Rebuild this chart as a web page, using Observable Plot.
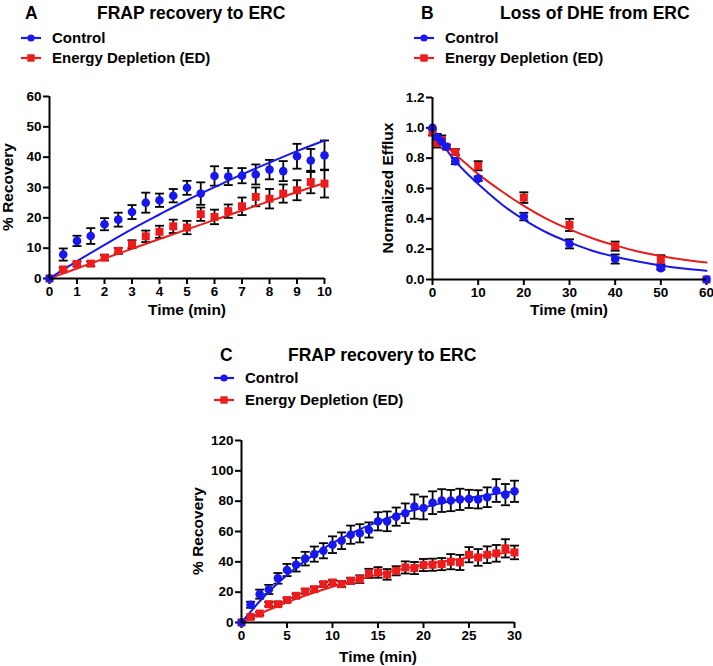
<!DOCTYPE html>
<html><head><meta charset="utf-8">
<script src="https://cdn.jsdelivr.net/npm/d3@7"></script>
<script src="https://cdn.jsdelivr.net/npm/@observablehq/plot@0.6"></script>
<style>
body{margin:0;background:#fff;}
#fig{position:relative;width:713px;height:666px;overflow:hidden;font-family:"Liberation Sans",Arial,sans-serif;font-weight:bold;color:#000;background:#fff;}
.t{position:absolute;white-space:nowrap;}
.ttl{font-size:17.5px;line-height:20px;}
.leg{font-size:15px;line-height:18px;}
.ax{font-size:15.5px;line-height:18px;transform:translate(-50%,-50%);}
.axr{font-size:15.5px;line-height:18px;transform:translate(-50%,-50%) rotate(-90deg);}
.panel{position:absolute;}
.panel svg{overflow:visible;}
</style>
</head><body><div id="fig"></div>
<script>
// ---------- DATA ----------
const seriesNames = ["Control", "Energy Depletion (ED)"];

// Panel A: FRAP recovery to ERC (0-10 min)
const timeA = [0,0.5,1,1.5,2,2.5,3,3.5,4,4.5,5,5.5,6,6.5,7,7.5,8,8.5,9,9.5,10];
const ctrlA = [0,7.9,12.4,14.0,17.9,19.4,21.9,25.0,25.8,27.3,29.9,28.0,33.8,33.6,33.9,34.3,35.9,35.4,40.3,38.9,40.6];
const ctrlErrA = [0,2.0,1.7,2.6,2.0,2.3,2.3,3.3,2.2,2.2,2.3,3.7,3.2,2.8,2.5,3.3,3.2,3.3,4.1,3.8,4.9];
const edA = [0,3.0,4.8,4.9,6.9,9.1,11.3,13.9,15.4,17.2,16.8,21.2,20.3,22.2,23.8,26.9,26.3,28.0,29.1,31.8,31.3];
const edErrA = [0,0.6,0.8,0.8,0.9,1.0,1.3,1.9,2.0,2.2,2.2,2.2,2.4,2.2,2.9,3.1,3.2,3.0,3.3,3.7,4.6];
const fitTimeA = [0,1,2,3,4,5,6,7,8,9,10];
const ctrlFitA = [0,5.7,11.1,16.3,21.1,25.8,30.1,34.3,38.2,42.0,45.5];
const edFitA = [0,3.3,6.6,9.8,13.0,16.2,19.3,22.4,25.5,28.5,31.5];

// Panel B: Loss of DHE from ERC (0-60 min)
const timeB = [0,1,2,3,5,10,20,30,40,50,60];
const ctrlB = [1.0,0.94,0.91,0.875,0.78,0.665,0.415,0.235,0.135,0.075,0.0];
const ctrlErrB = [0,0.02,0.02,0.01,0.02,0.015,0.025,0.03,0.03,0.01,0];
const edB = [0.97,0.90,0.92,0.875,0.84,0.75,0.54,0.36,0.22,0.13,0.0];
const edErrB = [0.02,0.03,0.03,0.015,0.02,0.03,0.035,0.04,0.03,0.03,0];
const fitTimeB = [0,2.5,5,7.5,10,15,20,25,30,35,40,45,50,55,60];
const ctrlFitB = [1.0,0.88,0.78,0.70,0.63,0.50,0.395,0.31,0.245,0.19,0.15,0.118,0.092,0.072,0.057];
const edFitB = [0.97,0.895,0.825,0.76,0.695,0.585,0.485,0.40,0.33,0.272,0.225,0.185,0.155,0.13,0.112];

// Panel C: FRAP recovery to ERC (0-30 min)
const timeC = [0,1,2,3,4,5,6,7,8,9,10,11,12,13,14,15,16,17,18,19,20,21,22,23,24,25,26,27,28,29,30];
const ctrlC = [0,11.7,18.7,21.8,29.1,34.6,38.1,42.1,45.1,47.3,51.3,53.9,57.9,58.8,61.0,66.7,66.7,69.8,72.0,76.4,75.5,79.0,80.4,80.4,81.2,81.5,81.2,82.6,87.0,84.3,86.5];
const ctrlErrC = [0,2,3,3,3.5,4,4.5,4.5,5,5,5.5,5.5,6,6,5,6,6.5,6,6.5,8,7.5,7.5,7.5,7,7,6,6,6.5,7.5,7,7];
const edC = [0,3.7,5.9,12.1,12.1,14.8,17.6,20.5,22.0,25.3,26.4,25.3,27.5,28.6,32.4,33.0,31.7,34.1,36.3,35.9,37.9,38.1,38.5,40.1,39.6,44.7,42.9,44.7,45.6,48.9,46.2];
const edErrC = [0,1,1,1.5,1.5,1.5,1.5,1.5,1.5,1.5,1.5,2,2,2.5,3,3.5,3.5,3,4,4,4,4,4,5,5,5,5.5,5.5,5.5,6,4.5];
const fitTimeC = [0,2,4,6,8,10,12,14,16,18,20,22,24,26,28,30];
const ctrlFitC = [0,14.0,26.0,36.2,44.9,52.3,58.6,64.0,68.6,72.5,75.8,78.7,81.1,83.1,84.9,86.4];
const edFitC = [0,5.7,10.9,15.6,19.8,23.6,27.1,30.2,33.0,35.6,37.9,40.0,41.9,43.7,45.2,46.6];

// tick values
const ticksAx = [0,1,2,3,4,5,6,7,8,9,10];
const ticksAy = [0,10,20,30,40,50,60];
const ticksBx = [0,10,20,30,40,50,60];
const ticksBy = [0,0.2,0.4,0.6,0.8,1.0,1.2];
const ticksCx = [0,5,10,15,20,25,30];
const ticksCy = [0,20,40,60,80,100,120];

// ---------- STYLE ----------
const BLUE = "#1717ee";
const RED = "#ec1c1c";
const fig = document.getElementById("fig");

const capSymbol = {
  draw(ctx, size) {
    const r = Math.sqrt(size / Math.PI);
    ctx.moveTo(-r, 0);
    ctx.lineTo(r, 0);
  }
};

function rows(t, v, e) { return t.map((x, i) => ({x, y: v[i], e: e ? e[i] : 0})); }

function panel(cfg) {
  const c = rows(cfg.time, cfg.ctrl, cfg.ctrlErr);
  const r = rows(cfg.time, cfg.ed, cfg.edErr);
  const all = [...r, ...c].filter(d => d.e > 0);
  const caps = all.flatMap(d => [{x: d.x, y: d.y + d.e}, {x: d.x, y: d.y - d.e}]);
  const cf = rows(cfg.fitTime, cfg.ctrlFit);
  const rf = rows(cfg.fitTime, cfg.edFit);
  const p = Plot.plot({
    width: cfg.w, height: cfg.h,
    marginLeft: cfg.m[3], marginRight: cfg.m[1], marginTop: cfg.m[0], marginBottom: cfg.m[2],
    style: {fontFamily: "'Liberation Sans', Arial, sans-serif", fontSize: "13.5px", fontWeight: "bold", color: "#000", background: "transparent", overflow: "visible"},
    x: {domain: cfg.xDomain},
    y: {domain: cfg.yDomain},
    marks: [
      Plot.axisX({ticks: cfg.xTicks, tickSize: 6, tickPadding: 2, strokeWidth: 2, label: null, tickFormat: d3.format("d")}),
      Plot.axisY({ticks: cfg.yTicks, tickSize: 6, tickPadding: 2, strokeWidth: 2, label: null, tickFormat: cfg.yFmt}),
      Plot.ruleX(all, {x: "x", y1: d => d.y - d.e, y2: d => d.y + d.e, stroke: "#000", strokeWidth: 1.8}),
      Plot.dot(caps, {x: "x", y: "y", symbol: capSymbol, r: 4.5, stroke: "#000", strokeWidth: 1.8, fill: "none"}),
      Plot.line(rf, {x: "x", y: "y", stroke: RED, strokeWidth: 2, curve: "natural"}),
      Plot.line(cf, {x: "x", y: "y", stroke: BLUE, strokeWidth: 2, curve: "natural"}),
      Plot.dot(r, {x: "x", y: "y", symbol: "square", r: 4.5, fill: RED, stroke: "none"}),
      Plot.dot(c, {x: "x", y: "y", symbol: "circle", r: 4.3, fill: BLUE, stroke: "none"}),
      Plot.ruleX([cfg.xDomain[0]], {stroke: "#000", strokeWidth: 2}),
      Plot.ruleY([cfg.yDomain[0]], {stroke: "#000", strokeWidth: 2})
    ]
  });
  const d = document.createElement("div");
  d.className = "panel";
  d.style.left = cfg.left + "px";
  d.style.top = cfg.top + "px";
  d.appendChild(p);
  fig.appendChild(d);
}

function text(cls, s, left, top) {
  const d = document.createElement("div");
  d.className = "t " + cls;
  d.textContent = s;
  d.style.left = left + "px";
  d.style.top = top + "px";
  fig.appendChild(d);
}

function legendKey(color, sym, left, cy) {
  const ns = "http://www.w3.org/2000/svg";
  const s = document.createElementNS(ns, "svg");
  s.setAttribute("width", 20); s.setAttribute("height", 12);
  s.style.position = "absolute";
  s.style.left = left + "px"; s.style.top = (cy - 6) + "px";
  const l = document.createElementNS(ns, "line");
  l.setAttribute("x1", 0); l.setAttribute("x2", 20); l.setAttribute("y1", 6); l.setAttribute("y2", 6);
  l.setAttribute("stroke", color); l.setAttribute("stroke-width", 2.2);
  s.appendChild(l);
  if (sym === "circle") {
    const c = document.createElementNS(ns, "circle");
    c.setAttribute("cx", 10); c.setAttribute("cy", 6); c.setAttribute("r", 3.6); c.setAttribute("fill", color);
    s.appendChild(c);
  } else {
    const r = document.createElementNS(ns, "rect");
    r.setAttribute("x", 6.3); r.setAttribute("y", 2.3); r.setAttribute("width", 7.4); r.setAttribute("height", 7.4); r.setAttribute("fill", color);
    s.appendChild(r);
  }
  fig.appendChild(s);
}

function header(letter, title, lx, tx, ty, keyX, textX, cy1, cy2) {
  text("ttl", letter, lx, ty);
  text("ttl", title, tx, ty);
  legendKey(BLUE, "circle", keyX, cy1);
  legendKey(RED, "square", keyX, cy2);
  text("leg", seriesNames[0], textX, cy1 - 9);
  text("leg", seriesNames[1], textX, cy2 - 9);
}

// ---------- PANELS ----------
header("A", "FRAP recovery to ERC", 25, 97, 3, 21, 52, 38, 58);
header("B", "Loss of DHE from ERC", 421, 500, 3, 414, 445, 38, 58);
header("C", "FRAP recovery to ERC", 220, 288, 345, 214, 245, 378, 400);

panel({left: 0, top: 80, w: 340, h: 240, m: [16, 16, 42, 49],
  time: timeA, ctrl: ctrlA, ctrlErr: ctrlErrA, ed: edA, edErr: edErrA,
  fitTime: fitTimeA, ctrlFit: ctrlFitA, edFit: edFitA,
  xDomain: [0, 10], yDomain: [0, 60], xTicks: ticksAx, yTicks: ticksAy, yFmt: d3.format("d")});

panel({left: 360, top: 80, w: 353, h: 240, m: [17, 7, 41, 72],
  time: timeB, ctrl: ctrlB, ctrlErr: ctrlErrB, ed: edB, edErr: edErrB,
  fitTime: fitTimeB, ctrlFit: ctrlFitB, edFit: edFitB,
  xDomain: [0, 60], yDomain: [0, 1.2], xTicks: ticksBx, yTicks: ticksBy, yFmt: d3.format(".1f")});

panel({left: 180, top: 400, w: 360, h: 266, m: [40, 26, 44, 61],
  time: timeC, ctrl: ctrlC, ctrlErr: ctrlErrC, ed: edC, edErr: edErrC,
  fitTime: fitTimeC, ctrlFit: ctrlFitC, edFit: edFitC,
  xDomain: [0, 30], yDomain: [0, 120], xTicks: ticksCx, yTicks: ticksCy, yFmt: d3.format("d")});

// axis titles
text("axr", "% Recovery", 8, 187);
text("ax", "Time (min)", 187, 310);
text("axr", "Normalized Efflux", 388, 188);
text("ax", "Time (min)", 569, 310);
text("axr", "% Recovery", 198, 531);
text("ax", "Time (min)", 378, 657);
</script>
</body></html>
